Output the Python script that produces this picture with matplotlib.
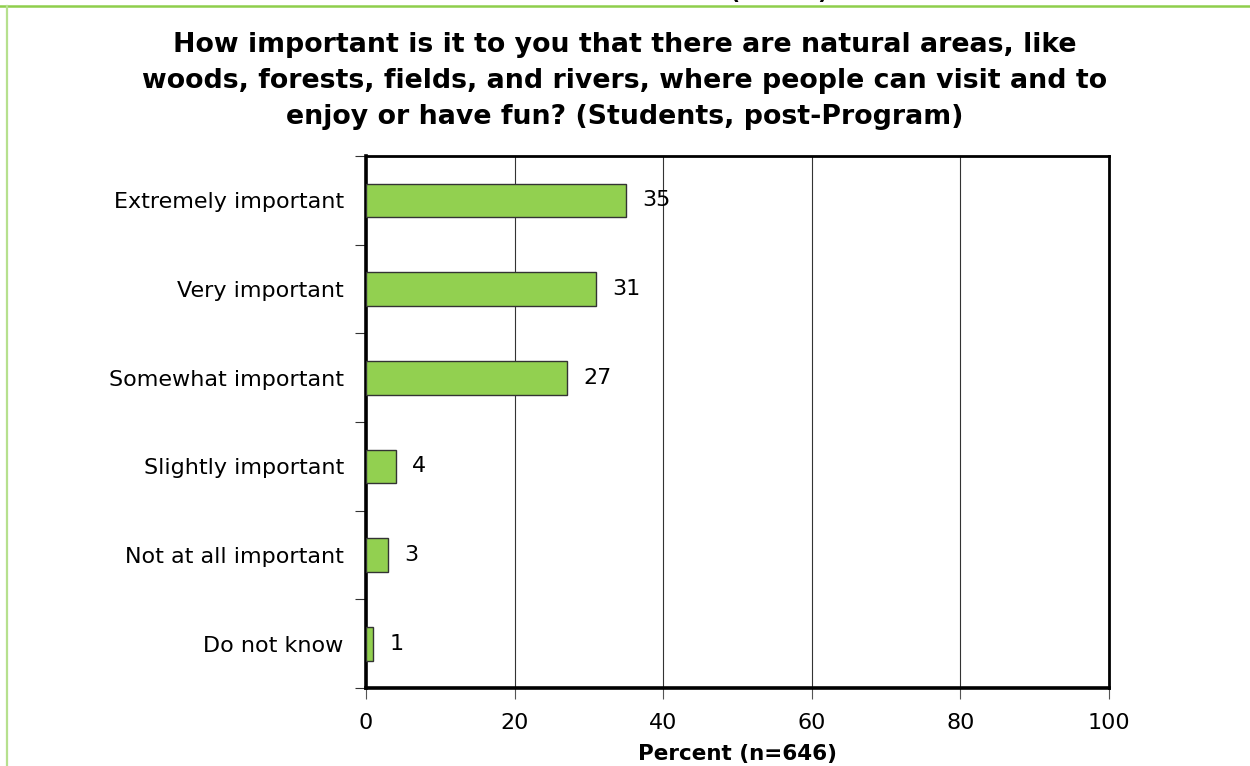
import matplotlib.pyplot as plt
from matplotlib.lines import Line2D

# Survey answers, top to bottom
categories = ['Extremely important', 'Very important', 'Somewhat important',
              'Slightly important', 'Not at all important', 'Do not know']
percents = [35, 31, 27, 4, 3, 1]
x_ticks = [0, 20, 40, 60, 80, 100]

title = ('How important is it to you that there are natural areas, like\n'
         'woods, forests, fields, and rivers, where people can visit and to\n'
         'enjoy or have fun? (Students, post-Program)')
x_title = 'Percent (n=646)'

plt.rcParams['font.family'] = ['DejaVu Sans']

fig = plt.figure(figsize=(12.5, 7.66), dpi=100)
ax = fig.add_axes([0.2928, 0.1018, 0.5944, 0.6945])

ypos = list(range(len(categories)))
ax.barh(ypos, percents, height=0.38, color='#92d050', edgecolor='#333333',
        linewidth=1.0, zorder=3)
for y, v in zip(ypos, percents):
    ax.text(v + 2.2, y, f'{v}', va='center', ha='left', fontsize=16, zorder=4)

ax.set_xlim(0, 100)
ax.set_ylim(len(categories) - 0.5, -0.5)
ax.set_xticks(x_ticks)
ax.set_xticklabels([str(t) for t in x_ticks], fontsize=16)
ax.set_yticks(ypos)
ax.set_yticklabels(categories, fontsize=16)
ax.tick_params(axis='y', length=0, pad=16)
ax.tick_params(axis='x', length=8, width=0.8, color='#555555', pad=10)

# category separators as outward ticks on the y axis
ax.set_yticks([i - 0.5 for i in range(len(categories) + 1)], minor=True)
ax.tick_params(axis='y', which='minor', length=8, width=0.8, color='#333333')

ax.grid(axis='x', color='#333333', linewidth=0.8, zorder=0)
for side in ['left', 'bottom']:
    ax.spines[side].set_linewidth(2.6)
for side in ['top', 'right']:
    ax.spines[side].set_linewidth(2.0)

ax.set_xlabel(x_title, fontsize=15.5, fontweight='bold', labelpad=8)

fig.text(0.5, 0.894, title, ha='center', va='center', fontsize=19.3,
         fontweight='bold', linespacing=1.5)

# page border lines and the label of the chart above, cut off at the top
fig.add_artist(Line2D([0, 1], [1 - 5.5 / 766, 1 - 5.5 / 766],
                      color='#8fce4c', linewidth=1.8, transform=fig.transFigure))
fig.add_artist(Line2D([6.5 / 1250, 6.5 / 1250], [0, 1 - 5.5 / 766],
                      color='#b6e08e', linewidth=1.6, transform=fig.transFigure))
fig.text(0.5825, 1.0 + 1 / 766, x_title, ha='center', va='baseline',
         fontsize=15.5, fontweight='bold')

fig.savefig('out.png', dpi=100)
